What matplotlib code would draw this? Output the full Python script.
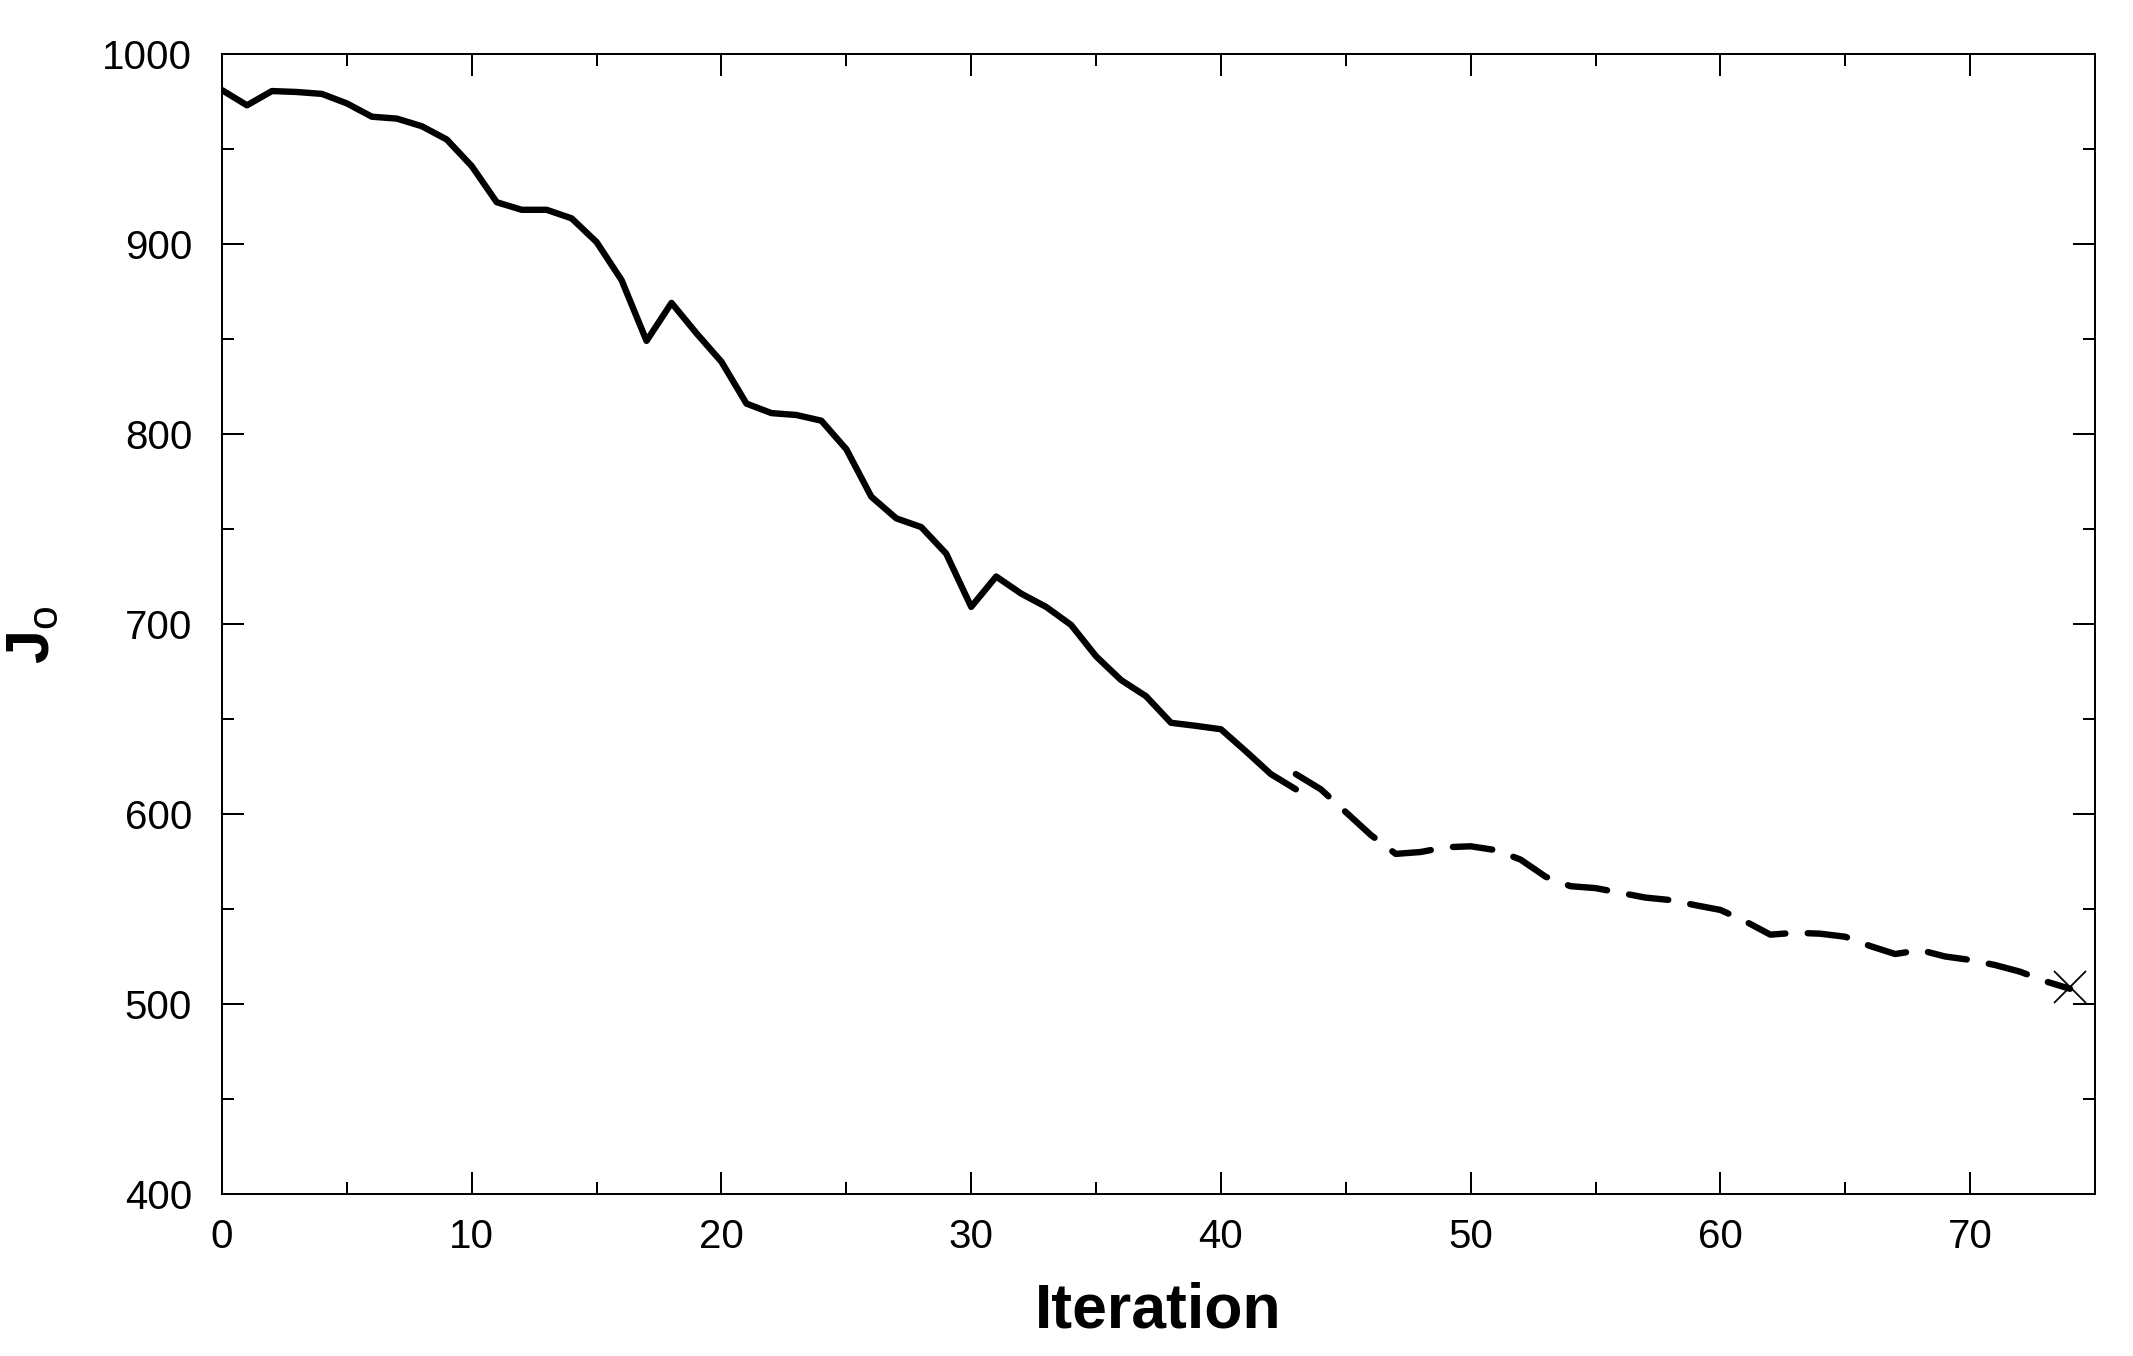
import matplotlib
matplotlib.use("Agg")
import matplotlib.pyplot as plt
from matplotlib.ticker import MultipleLocator

plt.rcParams["font.family"] = ["Liberation Sans", "DejaVu Sans"]
plt.rcParams["mathtext.fontset"] = "custom"
plt.rcParams["mathtext.rm"] = "Liberation Sans"
plt.rcParams["mathtext.bf"] = "Liberation Sans:bold"

# solid part of the run (iterations 0..43)
solid_iter = list(range(0, 44))
solid_jo = [
    981, 973, 980.5, 980, 979, 974, 967, 966, 962, 955,
    941, 922, 918, 918, 913.5, 901, 881, 849, 869, 853,
    838, 816, 811, 810, 807, 792, 767, 755.6, 751, 737,
    709, 725, 716, 709, 699.5, 683, 670.5, 662, 648, 646.4,
    644.6, 633, 621, 613,
]

# dashed part (iterations 43..74)
dashed_iter = list(range(43, 75))
dashed_jo = [
    621, 613, 601, 589, 579, 580, 582.5, 583, 581, 576,
    567, 562, 561, 558.5, 556, 554.7, 552, 549.5, 543.5, 536.5,
    537.5, 537, 535.4, 530.5, 526.3, 528.4, 525, 523.2, 520.5, 517,
    512, 508,
]

# final point marked with a cross
final_iter = [74]
final_jo = [509]

W, H = 2133, 1356
fig = plt.figure(figsize=(W / 100, H / 100), dpi=100)
ax = fig.add_axes((222 / W, 1 - 1194 / H, (2095 - 222) / W, (1194 - 54) / H))

lw = 4.6
ax.plot(solid_iter, solid_jo, color="black", linewidth=lw,
        solid_capstyle="round", solid_joinstyle="round")
ax.plot(dashed_iter, dashed_jo, color="black", linewidth=lw,
        dashes=(6.2, 3.5), dash_capstyle="round", dash_joinstyle="round")
ax.plot(final_iter, final_jo, linestyle="none", marker="x", markersize=23,
        markeredgewidth=1.3, color="black")

ax.set_xlim(0, 75)
ax.set_ylim(400, 1000)
ax.xaxis.set_major_locator(MultipleLocator(10))
ax.xaxis.set_minor_locator(MultipleLocator(5))
ax.yaxis.set_major_locator(MultipleLocator(100))
ax.yaxis.set_minor_locator(MultipleLocator(50))

for s in ax.spines.values():
    s.set_linewidth(1.44)

ax.tick_params(which="both", direction="in", top=True, right=True, width=1.44)
ax.tick_params(which="major", length=15.8)
ax.tick_params(which="minor", length=8.3)
ax.tick_params(axis="x", which="major", labelsize=29, pad=17.5)
ax.tick_params(axis="y", which="major", labelsize=29, pad=21.5)

fig.text(1158 / W, 1 - 1328 / H, "Iteration", fontsize=45, fontweight="bold",
         ha="center", va="baseline")
fig.text(34 / W, 1 - 635 / H, r"$\mathbf{J}_\mathrm{o}$", fontsize=44,
         rotation=90, ha="center", va="center")

fig.savefig("out.png", dpi=100, facecolor="white")
